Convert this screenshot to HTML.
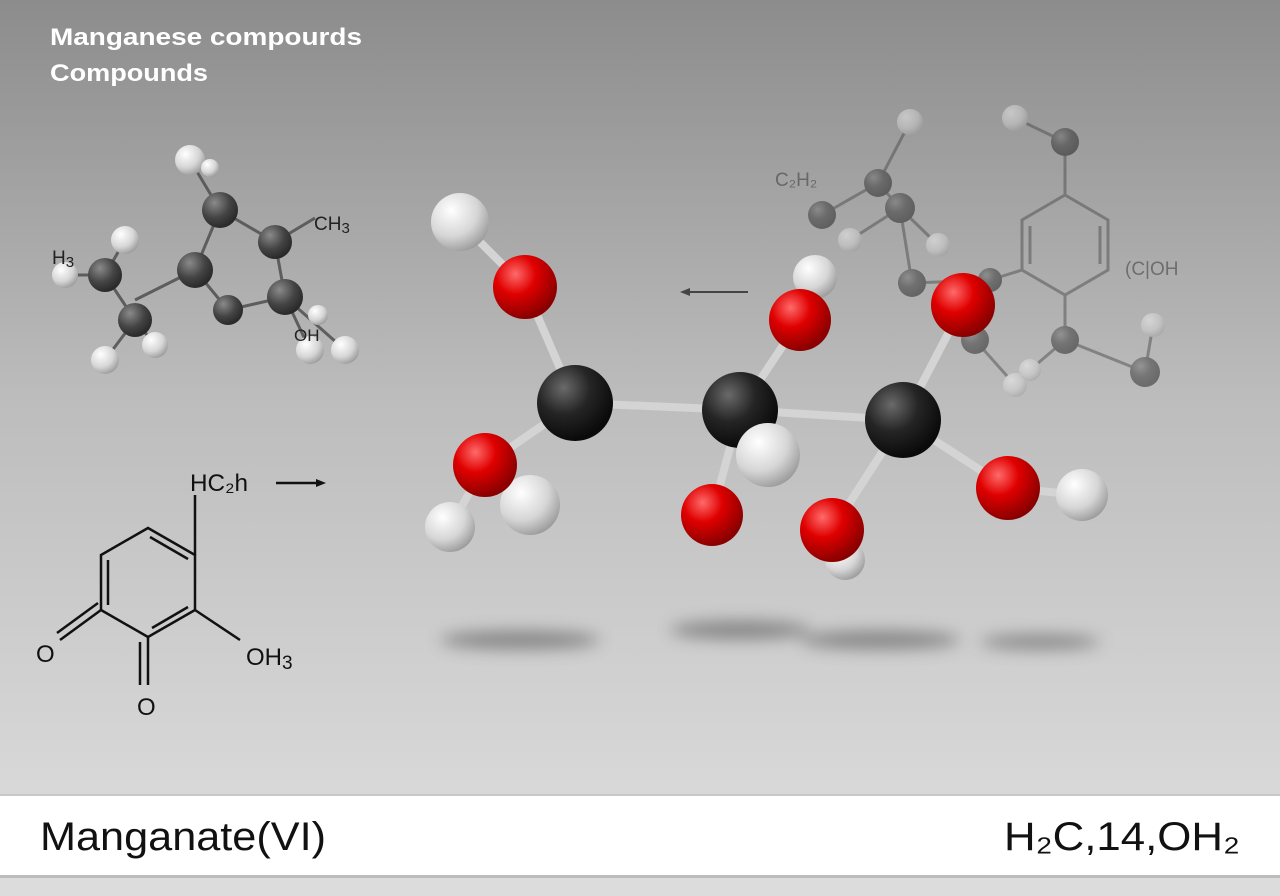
<!DOCTYPE html>
<html><head><meta charset="utf-8"><style>
html,body{margin:0;padding:0;width:1280px;height:896px;overflow:hidden;}
svg{display:block}
text{font-family:"Liberation Sans",sans-serif;}
</style></head><body>
<svg width="1280" height="896" viewBox="0 0 1280 896" xmlns="http://www.w3.org/2000/svg">
<defs>
<linearGradient id="bg" x1="0" y1="0" x2="0" y2="1">
<stop offset="0" stop-color="#8c8c8c"/><stop offset="0.45" stop-color="#bdbdbd"/><stop offset="0.88" stop-color="#d8d8d8"/><stop offset="1" stop-color="#dcdcdc"/>
</linearGradient>
<radialGradient id="blk" cx="0.35" cy="0.3" r="0.7"><stop offset="0" stop-color="#6a6a6a"/><stop offset="0.5" stop-color="#252525"/><stop offset="1" stop-color="#0a0a0a"/></radialGradient>
<radialGradient id="red" cx="0.35" cy="0.3" r="0.7"><stop offset="0" stop-color="#ff6a6a"/><stop offset="0.45" stop-color="#e00000"/><stop offset="1" stop-color="#8a0000"/></radialGradient>
<radialGradient id="wht" cx="0.35" cy="0.3" r="0.75"><stop offset="0" stop-color="#ffffff"/><stop offset="0.6" stop-color="#d6d6d6"/><stop offset="1" stop-color="#9a9a9a"/></radialGradient>
<radialGradient id="gry" cx="0.35" cy="0.3" r="0.7"><stop offset="0" stop-color="#8a8a8a"/><stop offset="0.6" stop-color="#444"/><stop offset="1" stop-color="#2a2a2a"/></radialGradient>
<filter id="blur" x="-50%" y="-300%" width="200%" height="700%"><feGaussianBlur stdDeviation="8"/></filter>
</defs>
<rect width="1280" height="896" fill="url(#bg)"/>
<text x="50" y="45" font-size="24" font-weight="bold" fill="#fff" textLength="312" lengthAdjust="spacingAndGlyphs">Manganese compourds</text>
<text x="50" y="81" font-size="24" font-weight="bold" fill="#fff" textLength="158" lengthAdjust="spacingAndGlyphs">Compounds</text>

<!-- left top molecule -->
<g stroke="#555" stroke-width="3" opacity="0.9">
<line x1="190" y1="160" x2="220" y2="210"/><line x1="220" y1="210" x2="275" y2="242"/><line x1="220" y1="210" x2="195" y2="270"/>
<line x1="275" y1="242" x2="315" y2="218"/><line x1="275" y1="242" x2="285" y2="297"/><line x1="195" y1="270" x2="228" y2="310"/>
<line x1="228" y1="310" x2="285" y2="297"/><line x1="195" y1="270" x2="135" y2="300"/><line x1="105" y1="275" x2="135" y2="320"/>
<line x1="105" y1="275" x2="125" y2="240"/><line x1="105" y1="275" x2="65" y2="275"/><line x1="135" y1="320" x2="105" y2="360"/><line x1="135" y1="320" x2="155" y2="345"/><line x1="285" y1="297" x2="310" y2="350"/><line x1="285" y1="297" x2="345" y2="350"/>
</g>
<circle cx="190" cy="160" r="15" fill="url(#wht)"/><circle cx="210" cy="168" r="9" fill="url(#wht)"/>
<circle cx="125" cy="240" r="14" fill="url(#wht)"/><circle cx="65" cy="275" r="13" fill="url(#wht)"/>
<circle cx="105" cy="360" r="14" fill="url(#wht)"/><circle cx="155" cy="345" r="13" fill="url(#wht)"/>
<circle cx="310" cy="350" r="14" fill="url(#wht)"/><circle cx="345" cy="350" r="14" fill="url(#wht)"/><circle cx="318" cy="315" r="10" fill="url(#wht)"/>
<circle cx="220" cy="210" r="18" fill="url(#gry)"/><circle cx="275" cy="242" r="17" fill="url(#gry)"/><circle cx="195" cy="270" r="18" fill="url(#gry)"/>
<circle cx="228" cy="310" r="15" fill="url(#gry)"/><circle cx="285" cy="297" r="18" fill="url(#gry)"/><circle cx="105" cy="275" r="17" fill="url(#gry)"/><circle cx="135" cy="320" r="17" fill="url(#gry)"/>
<text x="314" y="230" font-size="19" fill="#222">CH<tspan font-size="15" dy="3">3</tspan></text>
<text x="52" y="264" font-size="19" fill="#222">H<tspan font-size="15" dy="3">3</tspan></text>
<text x="294" y="341" font-size="17" fill="#222">OH</text>

<!-- bottom left structure -->
<g stroke="#111" stroke-width="2.5" fill="none">
<polygon points="148,528 195,555 195,610 148,637 101,610 101,555"/>
<line x1="108" y1="560" x2="108" y2="605"/><line x1="150" y1="537" x2="188" y2="559"/><line x1="152" y1="628" x2="188" y2="607"/>
<line x1="195" y1="555" x2="195" y2="495"/>
<line x1="101" y1="610" x2="60" y2="640"/><line x1="98" y1="603" x2="57" y2="633"/>
<line x1="148" y1="637" x2="148" y2="685"/><line x1="140" y1="642" x2="140" y2="685"/>
<line x1="195" y1="610" x2="240" y2="640"/>
<line x1="276" y1="483" x2="318" y2="483"/>
</g>
<polygon points="326,483 316,479 316,487" fill="#111"/>
<text x="190" y="491" font-size="24" fill="#111" textLength="58" lengthAdjust="spacingAndGlyphs">HC₂h</text>
<text x="36" y="662" font-size="24" fill="#111">O</text>
<text x="137" y="715" font-size="24" fill="#111">O</text>
<text x="246" y="665" font-size="24" fill="#111">OH<tspan font-size="19" dy="4">3</tspan></text>

<!-- right faded molecule -->
<g opacity="0.45">
<g stroke="#444" stroke-width="3" fill="none">
<polygon points="1065,195 1108,220 1108,270 1065,295 1022,270 1022,220"/>
<line x1="1030" y1="226" x2="1030" y2="264"/><line x1="1100" y1="226" x2="1100" y2="264"/>
<line x1="1065" y1="195" x2="1065" y2="142"/><line x1="1065" y1="142" x2="1015" y2="118"/>
<line x1="1022" y1="270" x2="990" y2="280"/><line x1="1065" y1="295" x2="1065" y2="340"/><line x1="1065" y1="340" x2="1145" y2="372"/><line x1="1145" y1="372" x2="1153" y2="325"/>
<line x1="1065" y1="340" x2="1030" y2="370"/><line x1="975" y1="340" x2="1015" y2="385"/>
<line x1="878" y1="183" x2="900" y2="208"/><line x1="900" y1="208" x2="912" y2="283"/><line x1="900" y1="208" x2="938" y2="245"/><line x1="878" y1="183" x2="822" y2="215"/><line x1="878" y1="183" x2="910" y2="122"/><line x1="900" y1="208" x2="850" y2="240"/><line x1="912" y1="283" x2="990" y2="280"/>
</g>
<circle cx="1065" cy="142" r="14" fill="url(#blk)"/><circle cx="1015" cy="118" r="13" fill="url(#wht)"/>
<circle cx="878" cy="183" r="14" fill="url(#blk)"/><circle cx="900" cy="208" r="15" fill="url(#blk)"/><circle cx="822" cy="215" r="14" fill="url(#blk)"/>
<circle cx="910" cy="122" r="13" fill="url(#wht)"/><circle cx="850" cy="240" r="12" fill="url(#wht)"/><circle cx="938" cy="245" r="12" fill="url(#wht)"/>
<circle cx="912" cy="283" r="14" fill="url(#blk)"/><circle cx="990" cy="280" r="12" fill="url(#blk)"/><circle cx="975" cy="340" r="14" fill="url(#blk)"/>
<circle cx="1065" cy="340" r="14" fill="url(#blk)"/><circle cx="1145" cy="372" r="15" fill="url(#blk)"/><circle cx="1153" cy="325" r="12" fill="url(#wht)"/>
<circle cx="1015" cy="385" r="12" fill="url(#wht)"/><circle cx="1030" cy="370" r="11" fill="url(#wht)"/>
<text x="775" y="186" font-size="19" fill="#222">C₂H₂</text>
<text x="1125" y="275" font-size="19" fill="#222">(C|OH</text>
</g>
<line x1="748" y1="292" x2="688" y2="292" stroke="#444" stroke-width="2"/>
<polygon points="680,292 690,288 690,296" fill="#444"/>

<!-- shadows -->
<g filter="url(#blur)" fill="#555" opacity="0.6">
<ellipse cx="520" cy="640" rx="80" ry="9"/><ellipse cx="740" cy="630" rx="70" ry="9"/><ellipse cx="880" cy="640" rx="80" ry="9"/><ellipse cx="1040" cy="642" rx="60" ry="7"/>
</g>

<!-- main molecule bonds -->
<g stroke="#d4d4d4" stroke-width="8" stroke-linecap="round">
<line x1="460" y1="222" x2="525" y2="287"/><line x1="525" y1="287" x2="575" y2="403"/>
<line x1="575" y1="403" x2="740" y2="410"/><line x1="740" y1="410" x2="903" y2="420"/>
<line x1="575" y1="403" x2="485" y2="465"/><line x1="485" y1="465" x2="450" y2="527"/>
<line x1="740" y1="410" x2="800" y2="320"/><line x1="800" y1="320" x2="815" y2="277"/>
<line x1="740" y1="410" x2="712" y2="515"/><line x1="740" y1="410" x2="768" y2="455"/>
<line x1="903" y1="420" x2="963" y2="305"/><line x1="903" y1="420" x2="832" y2="530"/><line x1="903" y1="420" x2="1008" y2="488"/><line x1="1008" y1="488" x2="1082" y2="495"/>
</g>
<circle cx="845" cy="560" r="20" fill="url(#wht)"/>
<circle cx="815" cy="277" r="22" fill="url(#wht)"/>
<circle cx="460" cy="222" r="29" fill="url(#wht)"/>
<circle cx="525" cy="287" r="32" fill="url(#red)"/>
<circle cx="575" cy="403" r="38" fill="url(#blk)"/>
<circle cx="530" cy="505" r="30" fill="url(#wht)"/>
<circle cx="485" cy="465" r="32" fill="url(#red)"/>
<circle cx="450" cy="527" r="25" fill="url(#wht)"/>
<circle cx="800" cy="320" r="31" fill="url(#red)"/>
<circle cx="740" cy="410" r="38" fill="url(#blk)"/>
<circle cx="768" cy="455" r="32" fill="url(#wht)"/>
<circle cx="712" cy="515" r="31" fill="url(#red)"/>
<circle cx="963" cy="305" r="32" fill="url(#red)"/>
<circle cx="903" cy="420" r="38" fill="url(#blk)"/>
<circle cx="832" cy="530" r="32" fill="url(#red)"/>
<circle cx="1082" cy="495" r="26" fill="url(#wht)"/>
<circle cx="1008" cy="488" r="32" fill="url(#red)"/>

<!-- bottom bar -->
<rect x="0" y="794" width="1280" height="82" fill="#fff"/>
<rect x="0" y="794" width="1280" height="2" fill="#c8c8c8"/>
<rect x="0" y="875" width="1280" height="3" fill="#bcbcbc"/>
<text x="40" y="850" font-size="40" fill="#111" textLength="286" lengthAdjust="spacingAndGlyphs">Manganate(VI)</text>
<text x="1004" y="850" font-size="40" fill="#111" textLength="236" lengthAdjust="spacingAndGlyphs">H₂C,14,OH₂</text>
</svg>
</body></html>
